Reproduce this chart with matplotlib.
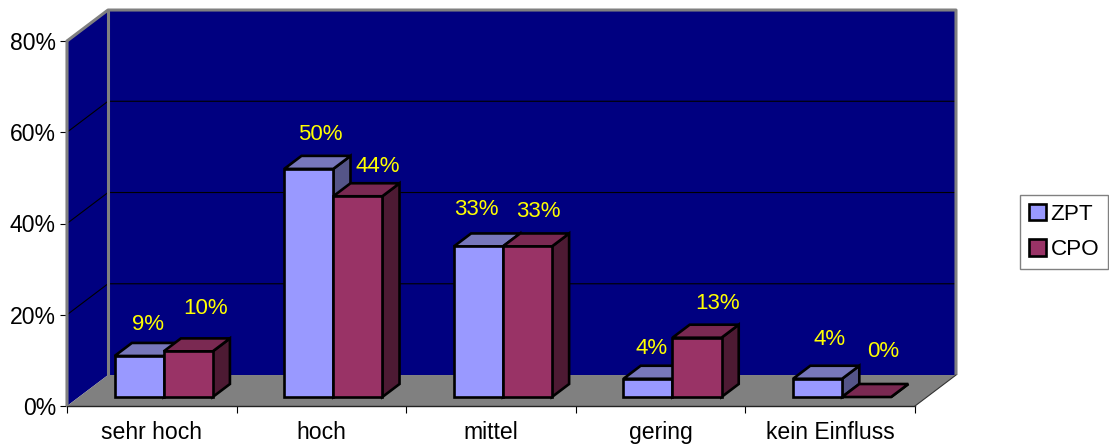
import matplotlib
matplotlib.use('Agg')
import matplotlib.pyplot as plt
from matplotlib.patches import Polygon, Patch

plt.rcParams['font.family'] = ['Liberation Sans', 'DejaVu Sans']

categories = ['sehr hoch', 'hoch', 'mittel', 'gering', 'kein Einfluss']
zpt_values = [9, 50, 33, 4, 4]
cpo_values = [10, 44, 33, 13, 0]
y_ticks = [0, 20, 40, 60, 80]

# label nudges from the middle of each bar's front top edge, in pixels
zpt_nudges = [(9, 31), (12, 34), (-2, 37), (4, 30), (12, 39)]
cpo_nudges = [(17, 43), (20, 30), (11, 35), (21, 34), (17, 46)]

WALL = '#000080'
FLOOR = '#808080'
ZPT_COLORS = ('#9999FF', '#7777BB', '#555588')
CPO_COLORS = ('#993366', '#7A2952', '#4D1A33')

# oblique depth of the chart box, as axis units per unit of depth
DEPTH_X = 0.2417
DEPTH_Y = 6.79
BAR_WIDTH = 0.289
BAR_FRONT = 0.29
BAR_DEPTH = 0.42


def project(x, y, depth):
    """Shift a point on the front plane back along the oblique depth axis."""
    return (x + depth * DEPTH_X, y + depth * DEPTH_Y)


def add_face(ax, points, color, zorder, edge='black', lw=1.9):
    face = Polygon([project(*p) for p in points], closed=True, facecolor=color,
                   edgecolor=edge, linewidth=lw, joinstyle='miter',
                   clip_on=False, zorder=zorder)
    ax.add_patch(face)


def draw_bar(ax, left, value, colors, zorder):
    front, top, side = colors
    right = left + BAR_WIDTH
    d0 = BAR_FRONT
    d1 = BAR_FRONT + BAR_DEPTH
    add_face(ax, [(right, 0, d0), (right, 0, d1), (right, value, d1), (right, value, d0)], side, zorder)
    add_face(ax, [(left, value, d0), (left, value, d1), (right, value, d1), (right, value, d0)], top, zorder)
    if value > 0:
        add_face(ax, [(left, 0, d0), (right, 0, d0), (right, value, d0), (left, value, d0)], front, zorder)


fig = plt.figure(figsize=(11.09, 4.45), dpi=100)
ax = fig.add_axes([67 / 1109, 1 - 406 / 445, 848 / 1109, 365 / 445])
ax.set_xlim(0, 5)
ax.set_ylim(0, 80)
ax.patch.set_visible(False)

# Walls and floor of the chart box
add_face(ax, [(0, 0, 0), (0, 0, 1), (0, 80, 1), (0, 80, 0)], WALL, 1, edge='none')
add_face(ax, [(0, 0, 1), (5, 0, 1), (5, 80, 1), (0, 80, 1)], WALL, 1, edge='none')
add_face(ax, [(0, 0, 0), (5, 0, 0), (5, 0, 1), (0, 0, 1)], FLOOR, 1, edge='none')

for tick in y_ticks[1:-1]:
    xs, ys = zip(project(0, tick, 0), project(0, tick, 1), project(5, tick, 1))
    ax.plot(xs, ys, color='black', lw=0.8, clip_on=False, zorder=2)

# Grey frame round the walls
frame = [[(0, 0, 0), (0, 80, 0), (0, 80, 1), (5, 80, 1), (5, 0, 1)], [(0, 80, 1), (0, 0, 1)]]
for path in frame:
    xs, ys = zip(*[project(*p) for p in path])
    ax.plot(xs, ys, color=FLOOR, lw=2.2, clip_on=False, zorder=3, solid_capstyle='butt')
xs, ys = zip(project(5, 0, 0), project(5, 0, 1))
ax.plot(xs, ys, color='#333333', lw=0.8, clip_on=False, zorder=3)

# Bars, left to right so each one overlaps the side of its neighbour
z = 4
for i in range(len(categories)):
    left = i + 0.5 - BAR_WIDTH
    draw_bar(ax, left, zpt_values[i], ZPT_COLORS, z)
    draw_bar(ax, left + BAR_WIDTH, cpo_values[i], CPO_COLORS, z + 1)
    z += 2

    series = [(left, zpt_values[i], zpt_nudges[i]), (left + BAR_WIDTH, cpo_values[i], cpo_nudges[i])]
    for bar_left, value, nudge in series:
        anchor = project(bar_left + BAR_WIDTH / 2, value, BAR_FRONT)
        ax.annotate(f'{value}%', xy=anchor, xycoords='data',
                    xytext=(nudge[0] * 0.72, nudge[1] * 0.72), textcoords='offset points',
                    ha='center', va='center', color='#FFFF00', fontsize=16,
                    annotation_clip=False, zorder=30)

# Axes, ticks and labels
for side in ['top', 'right']:
    ax.spines[side].set_visible(False)
ax.spines['left'].set_color(FLOOR)
ax.spines['left'].set_linewidth(1.5)
ax.spines['bottom'].set_color('#222222')
ax.spines['bottom'].set_linewidth(1.0)
ax.set_yticks(y_ticks)
ax.set_yticklabels([f'{t}%' for t in y_ticks])
ax.tick_params(axis='y', length=5, width=0.8, pad=3, labelsize=16.6)
ax.set_xticks(range(len(categories) + 1))
ax.set_xticklabels([])
ax.set_xticks([i + 0.5 for i in range(len(categories))], minor=True)
ax.set_xticklabels(categories, minor=True)
ax.tick_params(axis='x', which='major', length=5, width=0.8)
ax.tick_params(axis='x', which='minor', length=0, pad=11, labelsize=16.6)

handles = [Patch(facecolor=ZPT_COLORS[0], edgecolor='black', linewidth=1.9, label='ZPT'),
           Patch(facecolor=CPO_COLORS[0], edgecolor='black', linewidth=1.9, label='CPO')]
legend = fig.legend(handles=handles, loc='upper left', bbox_to_anchor=(1020 / 1109, 1 - 195 / 445),
                    borderaxespad=0, fontsize=16.2, fancybox=False, framealpha=1,
                    edgecolor=FLOOR, handlelength=0.75, handleheight=0.75, handletextpad=0.2,
                    labelspacing=0.62, borderpad=0.4)
legend.get_frame().set_linewidth(1.0)

plt.savefig('out.png', dpi=100)
plt.close(fig)
